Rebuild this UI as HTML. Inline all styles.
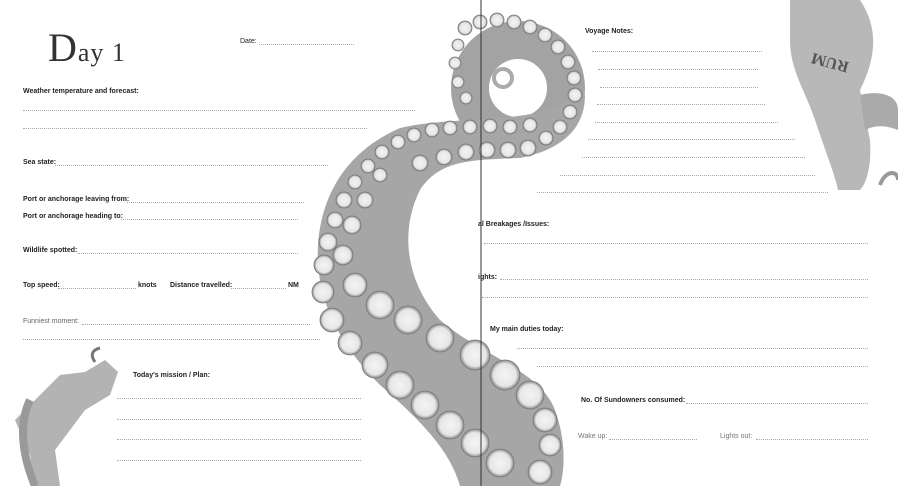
<!DOCTYPE html>
<html><head><meta charset="utf-8"><style>
body{margin:0;width:898px;height:486px;background:#fff;position:relative;overflow:hidden;font-family:"Liberation Sans",sans-serif}
.t{position:absolute;font-size:7px;font-weight:bold;color:#222;white-space:nowrap;line-height:8px}
.l{position:absolute;height:0;border-top:1px dotted #aaa}
</style></head><body>
<svg width="898" height="486" style="position:absolute;left:0;top:0">
<defs><radialGradient id="s" cx="50%" cy="50%" r="50%"><stop offset="0" stop-color="#f4f4f4"/><stop offset="0.75" stop-color="#e6e6e6"/><stop offset="1" stop-color="#888"/></radialGradient></defs>
<!-- curl -->
<circle cx="518" cy="88" r="48" fill="none" stroke="#a3a3a3" stroke-width="38"/>
<circle cx="503" cy="78" r="9" fill="none" stroke="#aaa" stroke-width="4"/>
<!-- body -->
<path d="M585,95 C585,130 560,150 520,158 C470,160 440,160 420,190 C400,230 405,280 440,320 C480,355 540,370 555,410 C566,440 565,470 560,486 L460,486 C450,450 420,420 380,385 C340,345 315,300 318,245 C322,190 350,150 400,128 C440,118 500,122 540,112 C560,105 575,95 585,95 Z" fill="#a6a6a6"/>
<g fill="url(#s)" stroke="#777" stroke-width="0.8">
<circle cx="465" cy="28" r="7"/><circle cx="480" cy="22" r="7"/><circle cx="497" cy="20" r="7"/><circle cx="514" cy="22" r="7"/><circle cx="530" cy="27" r="7"/><circle cx="545" cy="35" r="7"/><circle cx="558" cy="47" r="7"/><circle cx="568" cy="62" r="7"/><circle cx="574" cy="78" r="7"/><circle cx="575" cy="95" r="7"/><circle cx="570" cy="112" r="7"/><circle cx="560" cy="127" r="7"/><circle cx="546" cy="138" r="7"/>
<circle cx="458" cy="45" r="6"/><circle cx="455" cy="63" r="6"/><circle cx="458" cy="82" r="6"/><circle cx="466" cy="98" r="6"/>
<circle cx="528" cy="148" r="8"/><circle cx="508" cy="150" r="8"/><circle cx="487" cy="150" r="8"/><circle cx="466" cy="152" r="8"/><circle cx="444" cy="157" r="8"/><circle cx="420" cy="163" r="8"/>
<circle cx="530" cy="125" r="7"/><circle cx="510" cy="127" r="7"/><circle cx="490" cy="126" r="7"/><circle cx="470" cy="127" r="7"/><circle cx="450" cy="128" r="7"/><circle cx="432" cy="130" r="7"/><circle cx="414" cy="135" r="7"/><circle cx="398" cy="142" r="7"/>
<circle cx="382" cy="152" r="7"/><circle cx="368" cy="166" r="7"/><circle cx="355" cy="182" r="7"/><circle cx="344" cy="200" r="8"/><circle cx="335" cy="220" r="8"/><circle cx="328" cy="242" r="9"/><circle cx="324" cy="265" r="10"/><circle cx="323" cy="292" r="11"/><circle cx="332" cy="320" r="12"/><circle cx="350" cy="343" r="12"/><circle cx="375" cy="365" r="13"/><circle cx="400" cy="385" r="14"/><circle cx="425" cy="405" r="14"/><circle cx="450" cy="425" r="14"/><circle cx="475" cy="443" r="14"/><circle cx="500" cy="463" r="14"/>
<circle cx="380" cy="175" r="7"/><circle cx="365" cy="200" r="8"/><circle cx="352" cy="225" r="9"/><circle cx="343" cy="255" r="10"/><circle cx="355" cy="285" r="12"/><circle cx="380" cy="305" r="14"/><circle cx="408" cy="320" r="14"/><circle cx="440" cy="338" r="14"/><circle cx="475" cy="355" r="15"/><circle cx="505" cy="375" r="15"/><circle cx="530" cy="395" r="14"/><circle cx="545" cy="420" r="12"/><circle cx="550" cy="445" r="11"/><circle cx="540" cy="472" r="12"/>
</g>
<!-- top right bottle -->
<path d="M790,0 L860,0 C880,30 875,60 860,90 L870,140 C872,170 865,185 860,190 L838,190 C835,175 825,150 815,120 C805,90 790,70 790,40 Z" fill="#b8b8b8"/>
<path d="M860,95 C880,90 898,95 898,110 L898,130 C885,125 875,125 865,130 Z" fill="#aaa"/>
<path d="M880,185 C885,170 898,170 898,180" stroke="#999" stroke-width="4" fill="none"/>
<text x="830" y="60" font-size="16" font-family="Liberation Serif,serif" font-weight="bold" fill="#555" transform="rotate(195 840 60)">RUM</text>
<!-- bottom left bottle -->
<path d="M15,420 L60,375 L85,372 L105,360 L118,372 L110,395 L85,410 L55,450 L60,486 L35,486 L30,455 Z" fill="#b3b3b3"/>
<path d="M30,400 C20,420 20,450 35,486" stroke="#999" stroke-width="8" fill="none"/>
<path d="M95,362 C90,355 92,350 100,348" stroke="#777" stroke-width="3" fill="none"/>
<line x1="481" y1="0" x2="481" y2="486" stroke="#333" stroke-width="1"/>
</svg>
<div style="position:absolute;left:48px;top:24px;font-family:'Liberation Serif',serif;font-size:40px;color:#333;letter-spacing:1px">D<span style="font-size:26px">ay 1</span></div>
<div class="t" style="left:240px;top:38px;font-weight:normal">Date:</div><div class="l" style="left:259px;top:44px;width:95px"></div>
<div class="t" style="left:23px;top:88px">Weather temperature and forecast:</div>
<div class="l" style="left:23px;top:110px;width:392px"></div>
<div class="l" style="left:23px;top:128px;width:344px"></div>
<div class="t" style="left:23px;top:159px">Sea state:</div><div class="l" style="left:55px;top:165px;width:273px"></div>
<div class="t" style="left:23px;top:196px">Port or anchorage leaving from:</div><div class="l" style="left:127px;top:202px;width:177px"></div>
<div class="t" style="left:23px;top:213px">Port or anchorage heading to:</div><div class="l" style="left:121px;top:219px;width:177px"></div>
<div class="t" style="left:23px;top:247px">Wildlife spotted:</div><div class="l" style="left:78px;top:253px;width:220px"></div>
<div class="t" style="left:23px;top:282px">Top speed:</div><div class="l" style="left:58px;top:288px;width:78px"></div>
<div class="t" style="left:138px;top:282px">knots</div>
<div class="t" style="left:170px;top:282px">Distance travelled:</div><div class="l" style="left:231px;top:288px;width:55px"></div>
<div class="t" style="left:288px;top:282px">NM</div>
<div class="t" style="left:23px;top:318px;font-weight:normal;color:#666">Funniest moment:</div><div class="l" style="left:82px;top:324px;width:228px"></div>
<div class="l" style="left:23px;top:339px;width:297px"></div>
<div class="t" style="left:133px;top:372px">Today's mission / Plan:</div>
<div class="l" style="left:117px;top:398px;width:244px"></div>
<div class="l" style="left:117px;top:419px;width:244px"></div>
<div class="l" style="left:117px;top:439px;width:244px"></div>
<div class="l" style="left:117px;top:460px;width:244px"></div>
<div class="t" style="left:585px;top:28px">Voyage Notes:</div>
<div class="l" style="left:592px;top:51px;width:170px"></div>
<div class="l" style="left:598px;top:69px;width:160px"></div>
<div class="l" style="left:600px;top:87px;width:158px"></div>
<div class="l" style="left:597px;top:104px;width:168px"></div>
<div class="l" style="left:595px;top:122px;width:183px"></div>
<div class="l" style="left:588px;top:139px;width:207px"></div>
<div class="l" style="left:582px;top:157px;width:223px"></div>
<div class="l" style="left:560px;top:175px;width:255px"></div>
<div class="l" style="left:537px;top:192px;width:291px"></div>
<div class="t" style="left:478px;top:221px">al Breakages /Issues:</div>
<div class="l" style="left:484px;top:243px;width:384px"></div>
<div class="t" style="left:478px;top:274px">ights:</div><div class="l" style="left:500px;top:279px;width:368px"></div>
<div class="l" style="left:482px;top:297px;width:386px"></div>
<div class="t" style="left:490px;top:326px">My main duties today:</div>
<div class="l" style="left:517px;top:348px;width:351px"></div>
<div class="l" style="left:537px;top:366px;width:331px"></div>
<div class="t" style="left:581px;top:397px">No. Of Sundowners consumed:</div><div class="l" style="left:686px;top:403px;width:182px"></div>
<div class="t" style="left:578px;top:433px;font-weight:normal;color:#777">Wake up:</div><div class="l" style="left:609px;top:439px;width:88px"></div>
<div class="t" style="left:720px;top:433px;font-weight:normal;color:#777">Lights out:</div><div class="l" style="left:756px;top:439px;width:112px"></div>
</body></html>
